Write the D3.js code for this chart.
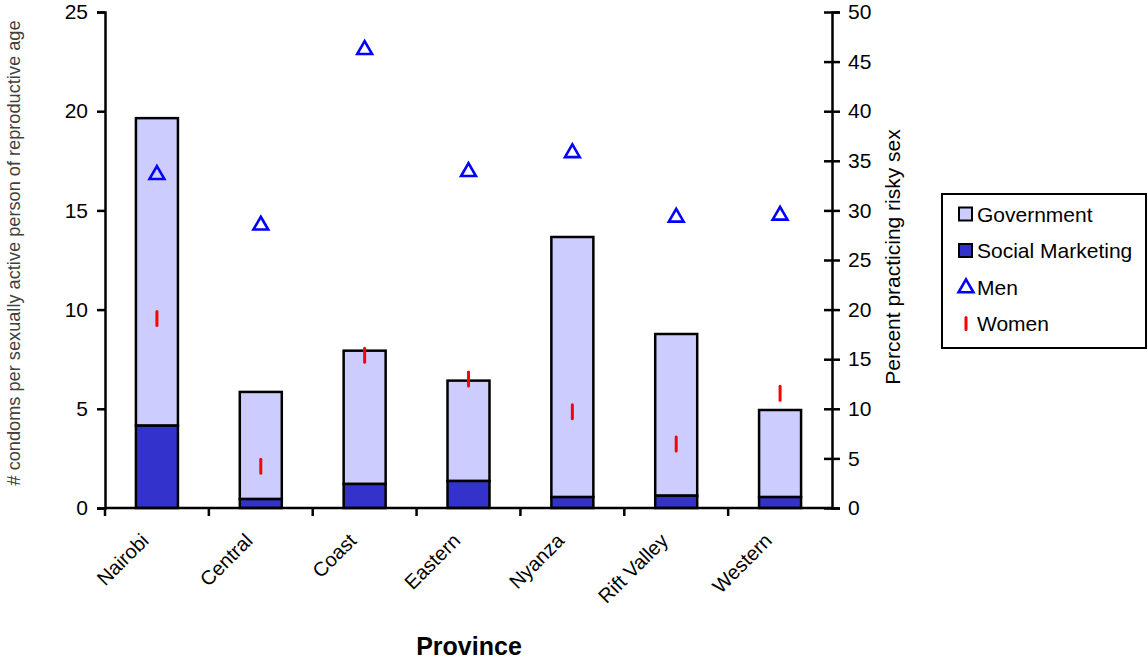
<!DOCTYPE html>
<html><head><meta charset="utf-8">
<script src="https://cdn.jsdelivr.net/npm/d3@7"></script>
<style>body{margin:0;background:#fff}svg{display:block}text{font-family:"Liberation Sans",Arial,sans-serif}</style>
</head><body><svg id="c" width="1148" height="662"></svg>
<script>
const provinces = ["Nairobi","Central","Coast","Eastern","Nyanza","Rift Valley","Western"];
const socialMarketing = [4.15, 0.45, 1.21, 1.36, 0.55, 0.62, 0.55];
const government = [15.5, 5.4, 6.72, 5.06, 13.11, 8.15, 4.39];
const men = [33.7, 28.6, 46.3, 34.0, 35.9, 29.4, 29.6];
const women = [19.1, 4.2, 15.4, 13.0, 9.7, 6.45, 11.56];
const leftTicks = [0,5,10,15,20,25];
const rightTicks = [0,5,10,15,20,25,30,35,40,45,50];

const svg = d3.select("#c");
const x0 = 105, x1 = 832, yTop = 12, yBot = 508;
const x = d3.scaleBand().domain(provinces).range([x0, x1]).paddingInner(0).paddingOuter(0);
const yL = d3.scaleLinear().domain([0,25]).range([yBot, yTop]);
const yR = d3.scaleLinear().domain([0,50]).range([yBot, yTop]);
const bw = 42;

// bars
const g = svg.append("g");
provinces.forEach((p,i)=>{
  const cx = x(p) + x.bandwidth()/2;
  const sm = socialMarketing[i], tot = sm + government[i];
  g.append("rect").attr("x", cx-bw/2).attr("y", yL(tot)).attr("width", bw).attr("height", yL(sm)-yL(tot))
    .attr("fill","#ccccff").attr("stroke","#000").attr("stroke-width",2.5);
  g.append("rect").attr("x", cx-bw/2).attr("y", yL(sm)).attr("width", bw).attr("height", yL(0)-yL(sm))
    .attr("fill","#3333cc").attr("stroke","#000").attr("stroke-width",2.5);
});

// axes
const axL = svg.append("g").attr("transform",`translate(${x0},0)`)
  .call(d3.axisLeft(yL).tickValues(leftTicks).tickSize(8).tickPadding(9));
const axR = svg.append("g").attr("transform",`translate(${x1},0)`)
  .call(d3.axisRight(yR).tickValues(rightTicks).tickSize(8).tickPadding(8));
axR.selectAll(".tick line").attr("x1",-8);
const axB = svg.append("g").attr("transform",`translate(0,${yBot})`)
  .call(d3.axisBottom(x).tickSize(0).tickFormat(""));
[axL,axR,axB].forEach(a=>{
  a.attr("font-size",21).attr("font-family","Liberation Sans, Arial, sans-serif");
  a.select(".domain").attr("stroke","#000").attr("stroke-width",2.5);
  a.selectAll(".tick line").attr("stroke","#000").attr("stroke-width",2.5);
  a.selectAll(".tick text").attr("font-size",21).attr("fill","#000");
});
axB.select(".domain").attr("d",`M${x0},0H${x1}`);
// category boundary ticks
const bounds = provinces.map(p=>x(p)).slice(1);
axB.selectAll(".btick").data(bounds).enter().append("line")
  .attr("x1",d=>d).attr("x2",d=>d).attr("y1",0).attr("y2",8).attr("stroke","#000").attr("stroke-width",2.5);
axL.append("line").attr("x1",0).attr("x2",0).attr("y1",yBot).attr("y2",yBot+8).attr("stroke","#000").attr("stroke-width",2.5);

// category labels
provinces.forEach(p=>{
  const cx = x(p) + x.bandwidth()/2;
  svg.append("text").attr("transform",`translate(${cx-7},${yBot+34}) rotate(-45)`)
    .attr("text-anchor","end").attr("font-size",20).attr("fill","#000").text(p);
});

// men triangles
const tri = d3.symbol().type(d3.symbolTriangle).size(95);
men.forEach((v,i)=>{
  const cx = x(provinces[i]) + x.bandwidth()/2;
  svg.append("path").attr("d",tri()).attr("transform",`translate(${cx},${yR(v)+1})`)
    .attr("fill","none").attr("stroke","#0000ff").attr("stroke-width",2.6);
});
// women dashes
women.forEach((v,i)=>{
  const cx = x(provinces[i]) + x.bandwidth()/2;
  svg.append("line").attr("x1",cx).attr("x2",cx).attr("y1",yR(v)-7).attr("y2",yR(v)+7)
    .attr("stroke","#ff0000").attr("stroke-width",3).attr("stroke-linecap","round");
});

// titles
svg.append("text").attr("transform",`translate(20,253) rotate(-90)`)
  .attr("text-anchor","middle").attr("font-size",19).attr("fill","#404040")
  .attr("textLength",465).attr("lengthAdjust","spacingAndGlyphs")
  .text("# condoms per sexually active person of reproductive age");
svg.append("text").attr("transform",`translate(900,257) rotate(-90)`)
  .attr("text-anchor","middle").attr("font-size",21).attr("fill","#000")
  .text("Percent practicing risky sex");
svg.append("text").attr("x",469).attr("y",655).attr("text-anchor","middle")
  .attr("font-size",25).attr("font-weight","bold").attr("fill","#000").text("Province");

// legend
const lg = svg.append("g");
lg.append("rect").attr("x",942).attr("y",194).attr("width",204).attr("height",154)
  .attr("fill","#fff").attr("stroke","#000").attr("stroke-width",2);
const items = [
  {name:"Government", type:"rect", fill:"#ccccff"},
  {name:"Social Marketing", type:"rect", fill:"#3333cc"},
  {name:"Men", type:"tri"},
  {name:"Women", type:"dash"}
];
items.forEach((it,i)=>{
  const cy = 214 + i*36.5;
  if(it.type==="rect"){
    lg.append("rect").attr("x",959).attr("y",cy-6.5).attr("width",13).attr("height",13)
      .attr("fill",it.fill).attr("stroke","#000").attr("stroke-width",2);
  } else if(it.type==="tri"){
    lg.append("path").attr("d",tri()).attr("transform",`translate(966,${cy+1})`)
      .attr("fill","none").attr("stroke","#0000ff").attr("stroke-width",2.6);
  } else {
    lg.append("line").attr("x1",966).attr("x2",966).attr("y1",cy-6).attr("y2",cy+6)
      .attr("stroke","#ff0000").attr("stroke-width",3).attr("stroke-linecap","round");
  }
  lg.append("text").attr("x",977).attr("y",cy+7.5).attr("font-size",21).attr("fill","#000").text(it.name);
});
</script></body></html>
